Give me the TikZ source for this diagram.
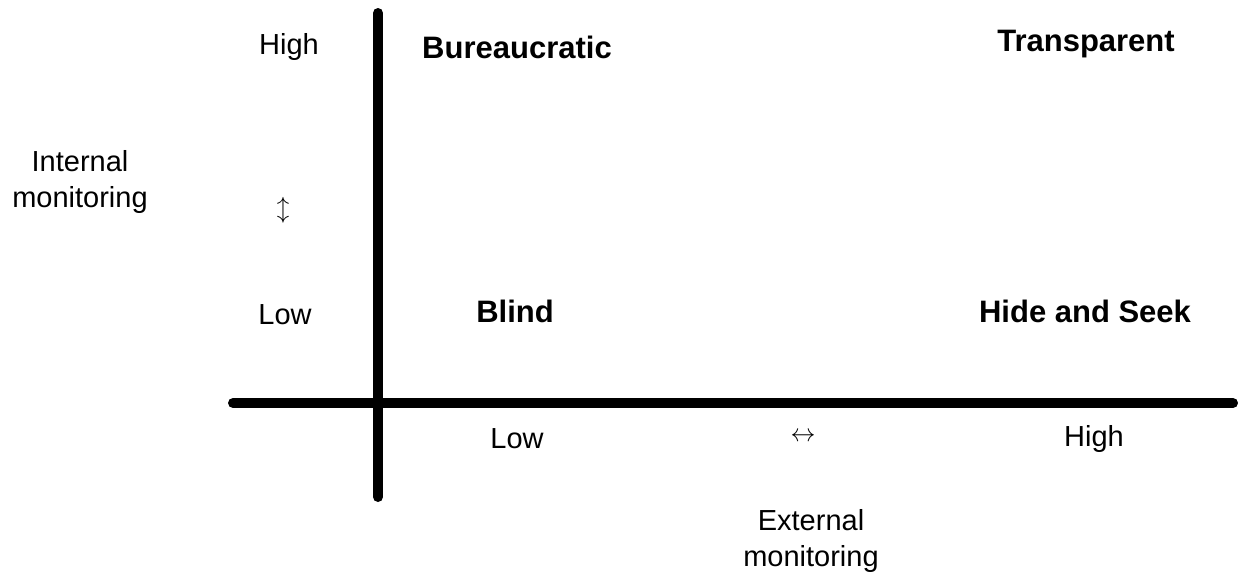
\documentclass[tikz,border=0pt]{standalone}
\usepackage{fontspec}
\setmainfont{Liberation Sans}
\begin{document}
\begin{tikzpicture}[x=1pt,y=-1pt,
  axis/.style={line width=10pt,line cap=round},
  lbl/.style={font=\fontsize{29}{36}\selectfont,inner sep=0pt,align=center},
  quad/.style={font=\fontsize{31}{36}\selectfont\bfseries,inner sep=0pt},
  arr/.style={font=\fontsize{27}{27}\selectfont,inner sep=0pt}]
\useasboundingbox (0,0) rectangle (1238,584);
\coordinate (vtop) at (378,13);
\coordinate (vbot) at (378,497);
\coordinate (hl) at (233,403);
\coordinate (hr) at (1233,403);
\draw[axis] (vtop) -- (vbot);
\draw[axis] (hl) -- (hr);
\node[lbl] (yhigh) at (289,47) {High};
\node[lbl] (ylow) at (285,315) {Low};
\node[lbl] (ytitle) at (80,182) {Internal\\monitoring};
\node[arr] (yarr) at (283,210) {$\updownarrow$};
\node[quad] (bur) at (517,47) {Bureaucratic};
\node[quad] (tra) at (1086,44) {Transparent};
\node[quad] (bli) at (515,311) {Blind};
\node[quad] (hid) at (1085,311) {Hide and Seek};
\node[lbl] (xlow) at (517,439) {Low};
\node[lbl] (xhigh) at (1094,439) {High};
\node[arr] (xarr) at (803,437) {$\leftrightarrow$};
\node[lbl] (xtitle) at (811,541) {External\\monitoring};
\end{tikzpicture}
\end{document}
